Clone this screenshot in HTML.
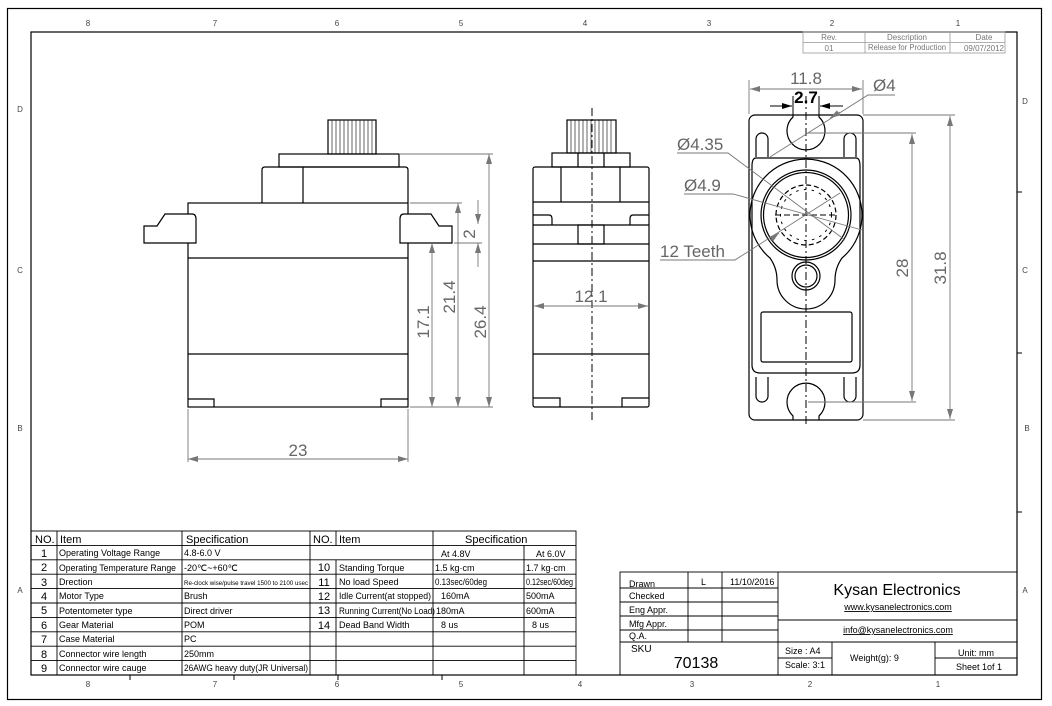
<!DOCTYPE html>
<html><head><meta charset="utf-8"><style>
html,body{margin:0;padding:0;background:#fff}
svg{display:block}
text{font-family:"Liberation Sans",sans-serif}
.k{stroke:#000;fill:none;stroke-width:1.2}
.g{stroke:#777;fill:none;stroke-width:0.9}
.dim{fill:#666;font-size:17px}
.t{font-size:9px;fill:#000}
</style></head><body>
<svg width="1052" height="706" viewBox="0 0 1052 706" xmlns="http://www.w3.org/2000/svg">
<defs>
<marker id="a" viewBox="0 0 10 6" refX="10" refY="3" markerWidth="10" markerHeight="6" orient="auto-start-reverse" markerUnits="userSpaceOnUse"><path d="M0,0 L10,3 L0,6 z" fill="#777"/></marker>
<marker id="ab" viewBox="0 0 10 6" refX="10" refY="3" markerWidth="10" markerHeight="6" orient="auto-start-reverse" markerUnits="userSpaceOnUse"><path d="M0,0 L10,3 L0,6 z" fill="#000"/></marker>
</defs>
<rect x="7.5" y="8.5" width="1034" height="691" fill="none" stroke="#000" stroke-width="1.2"/>
<rect x="31" y="32" width="986" height="643" fill="none" stroke="#000" stroke-width="1.2"/>
<g fill="#444" font-size="8" text-anchor="middle">
<text x="88" y="26">8</text><text x="215" y="26">7</text><text x="337" y="26">6</text><text x="461" y="26">5</text><text x="585" y="26">4</text><text x="709" y="26">3</text><text x="832" y="26">2</text><text x="958" y="26">1</text>
<text x="88" y="687">8</text><text x="215" y="687">7</text><text x="337" y="687">6</text><text x="461" y="687">5</text><text x="580" y="687">4</text><text x="692" y="687">3</text><text x="810" y="687">2</text><text x="938" y="687">1</text>
<text x="20" y="112">D</text><text x="20" y="273">C</text><text x="20" y="431">B</text><text x="20" y="593">A</text>
<text x="1025" y="104">D</text><text x="1025" y="273">C</text><text x="1027" y="431">B</text><text x="1025" y="593">A</text>
</g>
<g stroke="#000" stroke-width="1">
<line x1="130" y1="675" x2="130" y2="680"/><line x1="234" y1="675" x2="234" y2="680"/><line x1="338" y1="675" x2="338" y2="680"/><line x1="442" y1="675" x2="442" y2="680"/>
<line x1="1017" y1="192" x2="1022" y2="192"/><line x1="1017" y1="353" x2="1022" y2="353"/><line x1="1017" y1="512" x2="1022" y2="512"/>
</g>
<g stroke="#999" stroke-width="0.8" fill="none">
<rect x="803" y="32" width="202" height="21"/>
<line x1="803" y1="42.5" x2="1005" y2="42.5"/><line x1="865" y1="32" x2="865" y2="53"/><line x1="950" y1="32" x2="950" y2="53"/>
</g>
<g fill="#777" font-size="8" text-anchor="middle">
<text x="829" y="40">Rev.</text><text x="907" y="40">Description</text><text x="984" y="40">Date</text>
<text x="829" y="51">01</text><text x="907" y="50" textLength="78" lengthAdjust="spacingAndGlyphs">Release for Production</text><text x="984" y="51">09/07/2012</text>
</g>

<!-- LEFT VIEW -->
<g class="k">
<rect x="188" y="203" width="220" height="204"/>
<line x1="188" y1="258" x2="408" y2="258"/><line x1="188" y1="354" x2="408" y2="354"/>
<polyline points="188,399 214,399 214,407"/><polyline points="408,399 381,399 381,407"/>
<path d="M262,203 V170 Q262,167 265,167 H405 Q408,167 408,170 V203"/>
<line x1="303" y1="167" x2="303" y2="203"/>
<rect x="279" y="154" width="120" height="13"/>
<rect x="328" y="120" width="48" height="34"/>
<path d="M144,243 V226 H157 L165,214 H192 Q196,214 196,219 V243 Z" fill="#fff"/>
<path d="M452,243 V226 H439 L431,214 H404 Q400,214 400,219 V243 Z" fill="#fff"/>
</g>
<g stroke="#000" stroke-width="0.6">
<line x1="332" y1="120" x2="332" y2="154"/><line x1="336" y1="120" x2="336" y2="154"/><line x1="340" y1="120" x2="340" y2="154"/><line x1="344" y1="120" x2="344" y2="154"/><line x1="348" y1="120" x2="348" y2="154"/><line x1="352" y1="120" x2="352" y2="154"/><line x1="356" y1="120" x2="356" y2="154"/><line x1="360" y1="120" x2="360" y2="154"/><line x1="364" y1="120" x2="364" y2="154"/><line x1="368" y1="120" x2="368" y2="154"/><line x1="372" y1="120" x2="372" y2="154"/>
</g>
<g class="g">
<line x1="399" y1="154" x2="493" y2="154"/><line x1="410" y1="203" x2="462" y2="203"/><line x1="454" y1="243" x2="482" y2="243"/><line x1="410" y1="407" x2="493" y2="407"/>
<line x1="489" y1="154" x2="489" y2="407" marker-start="url(#a)" marker-end="url(#a)"/>
<line x1="458" y1="203" x2="458" y2="407" marker-start="url(#a)" marker-end="url(#a)"/>
<line x1="432" y1="243" x2="432" y2="407" marker-start="url(#a)" marker-end="url(#a)"/>
<line x1="478" y1="200" x2="478" y2="224" marker-end="url(#a)"/>
<line x1="478" y1="267" x2="478" y2="243" marker-end="url(#a)"/>
<line x1="188" y1="409" x2="188" y2="462"/><line x1="408" y1="409" x2="408" y2="462"/>
<line x1="188" y1="459" x2="408" y2="459" marker-start="url(#a)" marker-end="url(#a)"/>
</g>
<g class="dim" text-anchor="middle">
<text x="298" y="456">23</text>
<text transform="translate(429,322) rotate(-90)">17.1</text>
<text transform="translate(455,297) rotate(-90)">21.4</text>
<text transform="translate(486,322) rotate(-90)">26.4</text>
<text transform="translate(475,234) rotate(-90)">2</text>
</g>

<!-- MIDDLE VIEW -->
<g class="k">
<rect x="533" y="167" width="116" height="240" rx="2"/>
<line x1="533" y1="202" x2="649" y2="202"/><line x1="533" y1="225" x2="649" y2="225"/><line x1="533" y1="244" x2="649" y2="244"/><line x1="533" y1="261" x2="649" y2="261"/><line x1="533" y1="354" x2="649" y2="354"/>
<path d="M533,215 H549 Q552,215 552,219 V225"/><path d="M649,215 H633 Q630,215 630,219 V225"/>
<path d="M561,167 V202 M620,167 V202"/>
<rect x="578" y="225" width="26" height="19"/>
<rect x="552" y="153" width="78" height="14"/>
<line x1="578" y1="153" x2="578" y2="167"/><line x1="604" y1="153" x2="604" y2="167"/>
<rect x="567" y="120" width="49" height="33"/>
<polyline points="533,398 560,398 560,407"/><polyline points="649,398 622,398 622,407"/>
</g>
<g stroke="#000" stroke-width="0.6">
<line x1="571" y1="120" x2="571" y2="153"/><line x1="575" y1="120" x2="575" y2="153"/><line x1="579" y1="120" x2="579" y2="153"/><line x1="583" y1="120" x2="583" y2="153"/><line x1="587" y1="120" x2="587" y2="153"/><line x1="591" y1="120" x2="591" y2="153"/><line x1="595" y1="120" x2="595" y2="153"/><line x1="599" y1="120" x2="599" y2="153"/><line x1="603" y1="120" x2="603" y2="153"/><line x1="607" y1="120" x2="607" y2="153"/><line x1="611" y1="120" x2="611" y2="153"/>
</g>
<line x1="592" y1="108" x2="592" y2="420" stroke="#000" stroke-width="1" stroke-dasharray="8,3,2,3"/>
<line class="g" x1="534" y1="306" x2="648" y2="306" marker-start="url(#a)" marker-end="url(#a)"/>
<text class="dim" x="591" y="302" text-anchor="middle">12.1</text>

<!-- RIGHT VIEW -->
<g class="k">
<rect x="749" y="115" width="114" height="305" rx="6"/>
<path d="M793,115 V117 A19,19 0 1 0 819,117 V115"/>
<path d="M793,420 V416 A19,19 0 1 1 819,416 V420"/>
<path d="M756,157 V139 A6,6 0 0 1 768,139 V157"/><path d="M844,157 V139 A6,6 0 0 1 856,139 V157"/>
<path d="M756,377 V396 A6,6 0 0 0 768,396 V377"/><path d="M844,377 V396 A6,6 0 0 0 856,396 V377"/>
<path d="M756,158 H856 Q860,158 860,166 V365 Q860,373 852,373 H760 Q752,373 752,365 V166 Q752,158 756,158"/>
<path d="M770,258 A56,56 0 1 1 842,258 Q835,268 835,280 A29,29 0 0 1 777,280 Q777,268 770,258 Z"/>
<circle cx="806" cy="215" r="45"/>
<circle cx="806" cy="215" r="42.5"/>
<circle cx="806" cy="215" r="30" stroke-dasharray="5,2.85"/>
<circle cx="806" cy="215" r="25.5" stroke-dasharray="2.6,5.25" stroke-width="1"/>
<circle cx="806" cy="276" r="14"/>
<circle cx="806" cy="276" r="11"/>
<rect x="761" y="312" width="91" height="50" rx="2"/>
</g>
<line x1="806" y1="96" x2="806" y2="425" stroke="#000" stroke-width="1" stroke-dasharray="8,3,2,3"/>
<line x1="775" y1="215" x2="838" y2="215" stroke="#000" stroke-width="1" stroke-dasharray="6,3"/>
<g class="g">
<line x1="749" y1="80" x2="749" y2="114"/><line x1="863" y1="80" x2="863" y2="114"/>
<line x1="750" y1="89" x2="862" y2="89" marker-start="url(#a)" marker-end="url(#a)"/>
<line x1="863" y1="115" x2="955" y2="115"/><line x1="863" y1="420" x2="955" y2="420"/>
<line x1="950" y1="116" x2="950" y2="419" marker-start="url(#a)" marker-end="url(#a)"/>
<line x1="808" y1="133" x2="916" y2="133"/><line x1="808" y1="402" x2="916" y2="402"/>
<line x1="912" y1="134" x2="912" y2="401" marker-start="url(#a)" marker-end="url(#a)"/>
<polyline points="895,95 868,95 770,157"/>
<line x1="830" y1="118" x2="840" y2="112" marker-start="url(#a)"/>
<polyline points="677,153 728,153 845,240"/>
<polyline points="684,194 733,194 862,230"/>
<polyline points="660,260 735,260 840,193"/>
<line x1="770" y1="240" x2="779" y2="233" marker-end="url(#a)"/>
</g>
<g stroke="#000" stroke-width="1">
<line x1="793" y1="96" x2="793" y2="115"/><line x1="819" y1="96" x2="819" y2="115"/>
<line x1="770" y1="106" x2="792" y2="106" marker-end="url(#ab)"/><line x1="843" y1="106" x2="820" y2="106" marker-end="url(#ab)"/>
</g>
<g class="dim">
<text x="806" y="84" text-anchor="middle">11.8</text>
<text x="806" y="103" text-anchor="middle" fill="#000" font-weight="bold">2.7</text>
<text x="873" y="91">Ø4</text>
<text x="677" y="150">Ø4.35</text>
<text x="684" y="191">Ø4.9</text>
<text x="660" y="257">12 Teeth</text>
<text transform="translate(908,268) rotate(-90)" text-anchor="middle">28</text>
<text transform="translate(946,268) rotate(-90)" text-anchor="middle">31.8</text>
</g>

<!-- SPEC TABLE -->
<g stroke="#000" stroke-width="0.9" fill="none">
<rect x="31" y="531" width="545" height="144"/>
<line x1="31" y1="545.4" x2="576" y2="545.4"/><line x1="31" y1="559.8" x2="576" y2="559.8"/>
<line x1="31" y1="574.2" x2="576" y2="574.2"/><line x1="31" y1="588.6" x2="576" y2="588.6"/><line x1="31" y1="603" x2="576" y2="603"/><line x1="31" y1="617.4" x2="576" y2="617.4"/><line x1="31" y1="631.8" x2="576" y2="631.8"/><line x1="31" y1="646.2" x2="576" y2="646.2"/><line x1="31" y1="660.6" x2="576" y2="660.6"/>
<line x1="57" y1="531" x2="57" y2="675"/><line x1="182" y1="531" x2="182" y2="675"/><line x1="310" y1="531" x2="310" y2="675"/>
<line x1="336" y1="531" x2="336" y2="545.4"/><line x1="336" y1="559.8" x2="336" y2="675"/>
<line x1="433" y1="531" x2="433" y2="675"/><line x1="524" y1="545.4" x2="524" y2="675"/>
</g>
<g class="t" font-size="8.5">
<g font-size="11"><text x="35" y="543">NO.</text><text x="60" y="543">Item</text><text x="186" y="543">Specification</text><text x="313" y="543">NO.</text><text x="339" y="543">Item</text><text x="465" y="543">Specification</text></g>
<g font-size="11" text-anchor="middle"><text x="44" y="557">1</text><text x="44" y="571">2</text><text x="44" y="586">3</text><text x="44" y="600">4</text><text x="44" y="614">5</text><text x="44" y="629">6</text><text x="44" y="643">7</text><text x="44" y="658">8</text><text x="44" y="672">9</text>
<text x="324" y="571">10</text><text x="324" y="586">11</text><text x="324" y="600">12</text><text x="324" y="614">13</text><text x="324" y="629">14</text></g>
<text x="59" y="556">Operating Voltage Range</text><text x="59" y="571" textLength="117" lengthAdjust="spacingAndGlyphs">Operating Temperature Range</text><text x="59" y="585">Drection</text><text x="59" y="599">Motor Type</text><text x="59" y="614">Potentometer type</text><text x="59" y="628">Gear Material</text><text x="59" y="642">Case Material</text><text x="59" y="657">Connector wire length</text><text x="59" y="671">Connector wire cauge</text>
<text x="184" y="556">4.8-6.0 V</text><text x="184" y="571">-20℃~+60℃</text><text x="184" y="585" font-size="6" textLength="124" lengthAdjust="spacingAndGlyphs">Re-clock wise/pulse travel 1500 to 2100 usec</text><text x="184" y="599">Brush</text><text x="184" y="614">Direct driver</text><text x="184" y="628">POM</text><text x="184" y="642">PC</text><text x="184" y="657">250mm</text><text x="184" y="671" textLength="124" lengthAdjust="spacingAndGlyphs">26AWG heavy duty(JR Universal)</text>
<text x="339" y="571">Standing Torque</text><text x="339" y="585">No load Speed</text><text x="339" y="599" textLength="92" lengthAdjust="spacingAndGlyphs">Idle Current(at stopped)</text><text x="339" y="614" textLength="96" lengthAdjust="spacingAndGlyphs">Running Current(No Load)</text><text x="339" y="628">Dead Band Width</text>
<text x="441" y="557">At 4.8V</text><text x="536" y="557">At 6.0V</text>
<text x="435" y="571">1.5 kg·cm</text><text x="526" y="571">1.7 kg·cm</text>
<text x="435" y="585" textLength="52" lengthAdjust="spacingAndGlyphs">0.13sec/60deg</text><text x="526" y="585" textLength="47" lengthAdjust="spacingAndGlyphs">0.12sec/60deg</text>
<text x="441" y="599">160mA</text><text x="526" y="599">500mA</text>
<text x="436" y="614">180mA</text><text x="526" y="614">600mA</text>
<text x="441" y="628">8 us</text><text x="532" y="628">8 us</text>
</g>

<!-- TITLE BLOCK -->
<g stroke="#000" stroke-width="0.9" fill="none">
<rect x="620" y="572" width="397" height="103"/>
<line x1="688" y1="572" x2="688" y2="642"/><line x1="722" y1="572" x2="722" y2="642"/><line x1="778" y1="572" x2="778" y2="675"/>
<line x1="620" y1="588" x2="778" y2="588"/><line x1="620" y1="602" x2="778" y2="602"/><line x1="620" y1="616" x2="778" y2="616"/><line x1="620" y1="630" x2="778" y2="630"/>
<line x1="620" y1="642" x2="1017" y2="642"/><line x1="778" y1="620" x2="1017" y2="620"/>
<line x1="832" y1="642" x2="832" y2="675"/><line x1="935" y1="642" x2="935" y2="675"/>
<line x1="778" y1="658" x2="832" y2="658"/><line x1="935" y1="658" x2="1017" y2="658"/>
</g>
<g class="t" font-size="8">
<text x="629" y="587">Drawn</text><text x="629" y="599">Checked</text><text x="629" y="613">Eng Appr.</text><text x="629" y="627">Mfg Appr.</text><text x="629" y="639">Q.A.</text>
<text x="701" y="585">L</text><text x="730" y="585">11/10/2016</text>
<text x="631" y="652" font-size="10">SKU</text>
<text x="696" y="668" font-size="16" text-anchor="middle">70138</text>
<text x="897" y="595" font-size="16" text-anchor="middle">Kysan Electronics</text>
<text x="898" y="610" text-anchor="middle" text-decoration="underline">www.kysanelectronics.com</text>
<text x="898" y="633" text-anchor="middle" text-decoration="underline">info@kysanelectronics.com</text>
<text x="785" y="654">Size : A4</text><text x="785" y="668">Scale: 3:1</text>
<text x="850" y="661" font-size="9">Weight(g): 9</text>
<text x="958" y="656" font-size="9">Unit: mm</text><text x="956" y="670" font-size="9">Sheet 1of 1</text>
</g>
</svg>
</body></html>
